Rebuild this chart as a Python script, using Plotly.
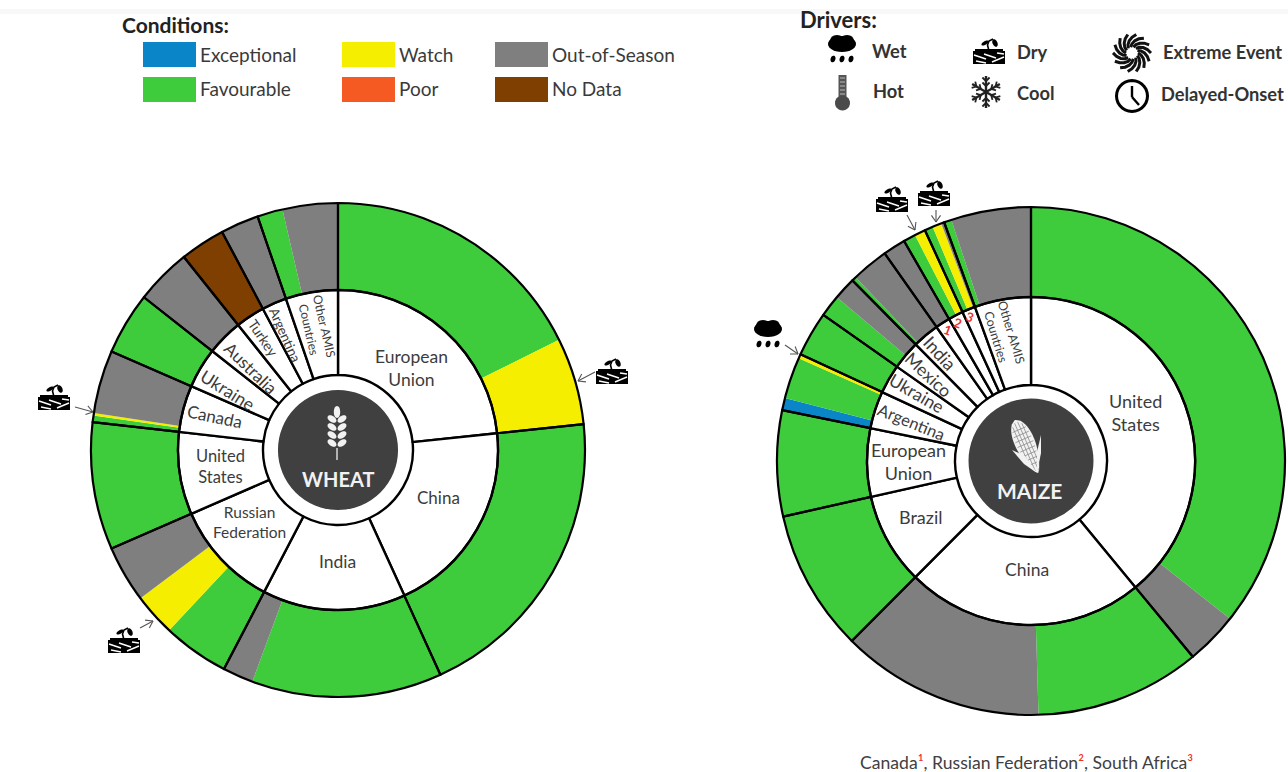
import math
import plotly.graph_objects as go

W, H = 1288, 772

# ---------- data (sector widths, degrees of the full circle) ----------
wheat_countries = ["European Union", "China", "India", "Russian Federation", "United States",
                   "Canada", "Ukraine", "Australia", "Turkey", "Argentina", "Other AMIS Countries"]
wheat_shares = [84, 71.5, 52, 39, 30, 17, 14.7, 13.2, 10.6, 9, 19]
wheat_seg_cond = ["Favourable", "Watch", "Favourable", "Favourable", "Out-of-Season", "Favourable", "Watch",
                  "Out-of-Season", "Favourable", "Favourable", "Watch", "Out-of-Season", "Favourable",
                  "Out-of-Season", "No Data", "Out-of-Season", "Favourable", "Out-of-Season"]
wheat_seg_vals = [63.5, 20.5, 71.5, 44.8, 7.2, 15.6, 10, 13.4, 30, 1.5, 0.6, 14.9, 14.7, 13.2, 10.6, 9, 6, 13]

maize_countries = ["United States", "China", "Brazil", "European Union", "Argentina", "Ukraine", "Mexico",
                   "India", "Canada", "Russian Federation", "South Africa", "Other AMIS Countries"]
maize_shares = [140.5, 84.5, 32.5, 24.2, 13.3, 10.3, 10.2, 9.5, 5.2, 5.3, 4.7, 20]
maize_seg_cond = ["Favourable", "Out-of-Season", "Favourable", "Out-of-Season", "Favourable", "Favourable",
                  "Exceptional", "Favourable", "Watch", "Favourable", "Favourable", "Out-of-Season",
                  "Favourable", "Out-of-Season", "Out-of-Season", "Favourable", "Watch",
                  "Favourable", "Watch", "Out-of-Season", "Favourable", "Out-of-Season"]
maize_seg_vals = [128.5, 12, 37.9, 46.6, 32.5, 24.2, 2.8, 9.5, 1, 10.3, 5, 5.2, 1, 8.5, 5.2, 2.8, 2.5,
                  1.9, 2.1, 0.7, 1.7, 18.3]

legend_conditions = ["Exceptional", "Favourable", "Watch", "Poor", "Out-of-Season", "No Data"]
legend_drivers = ["Wet", "Hot", "Dry", "Cool", "Extreme Event", "Delayed-Onset"]

# ---------- styles ----------
COLORS = {"Exceptional": "#0A86C8", "Favourable": "#3FCC3C", "Watch": "#F5EE00", "Poor": "#F55A22",
          "Out-of-Season": "#7F7F7F", "No Data": "#7F3F00"}
DARK = "#404040"
TXT = "#3c3c3c"
FONT = "Lato"


def px(x):
    return x / W


def py(y):
    return 1 - y / H


def dom(cx, cy, r):
    return dict(x=[px(cx - r), px(cx + r)], y=[py(cy + r), py(cy - r)])


fig = go.Figure()
shapes, notes = [], []


def ring(crop, cx, cy, R, r_mid, r_in, r_disc, countries, shares, seg_c, seg_v):
    common = dict(sort=False, direction="clockwise", rotation=0, textinfo="none",
                  hoverinfo="skip", showlegend=False)
    fig.add_trace(go.Pie(labels=[f"{i} {c}" for i, c in enumerate(seg_c)], values=seg_v,
                         domain=dom(cx, cy, R), hole=r_mid / R,
                         marker=dict(colors=[COLORS[c] for c in seg_c], line=dict(width=0)), **common))
    fig.add_trace(go.Pie(labels=countries, values=shares, domain=dom(cx, cy, r_mid), hole=r_in / r_mid,
                         marker=dict(colors=["white"] * len(shares), line=dict(color="black", width=2.4)),
                         **common))
    fig.add_trace(go.Pie(labels=countries, values=shares, domain=dom(cx, cy, R), hole=r_mid / R,
                         marker=dict(colors=["rgba(0,0,0,0)"] * len(shares),
                                     line=dict(color="black", width=2.2)), **common))
    fig.add_trace(go.Pie(labels=[crop], values=[1], domain=dom(cx, cy, r_disc),
                         marker=dict(colors=[DARK], line=dict(width=0)), **common))


ring("WHEAT", 338, 450, 247, 160, 75, 60, wheat_countries, wheat_shares, wheat_seg_cond, wheat_seg_vals)
ring("MAIZE", 1031, 461, 254, 164, 76, 62.5, maize_countries, maize_shares, maize_seg_cond, maize_seg_vals)


def text(x, y, s, size=15, color=TXT, angle=0, anchor="center", bold=False):
    notes.append(dict(x=px(x), y=py(y), xref="paper", yref="paper", text=f"<b>{s}</b>" if bold else s,
                      showarrow=False, xanchor=anchor, yanchor="middle", textangle=angle,
                      font=dict(family=FONT, size=size, color=color), align="center",
                      bgcolor="rgba(0,0,0,0)", borderpad=0))


def path(points, fill="black", line=None, width=1, close=True):
    d = "M" + " L".join(f"{px(a):.5f},{py(b):.5f}" for a, b in points) + (" Z" if close else "")
    shapes.append(dict(type="path", path=d, xref="paper", yref="paper", layer="above",
                       fillcolor=fill if close else "rgba(0,0,0,0)",
                       line=dict(color=line or "rgba(0,0,0,0)", width=width if line else 0)))


def ellipse(cx, cy, a, b, rot=0, fill="black", line=None, width=1):
    t = math.radians(rot)
    pts = []
    for i in range(28):
        u = 2 * math.pi * i / 28
        x, y = a * math.cos(u), b * math.sin(u)
        pts.append((cx + x * math.cos(t) - y * math.sin(t), cy + x * math.sin(t) + y * math.cos(t)))
    path(pts, fill, line, width)


def seg(x0, y0, x1, y1, color="black", width=1):
    path([(x0, y0), (x1, y1)], line=color, width=width, close=False)


def rect(x0, y0, x1, y1, fill):
    shapes.append(dict(type="rect", x0=px(x0), x1=px(x1), y0=py(y1), y1=py(y0), xref="paper", yref="paper",
                       layer="above", fillcolor=fill, line=dict(width=0)))


def arrow(x0, y0, x1, y1):
    ang = math.atan2(y1 - y0, x1 - x0)
    for d in (0.6, -0.6):
        seg(x1, y1, x1 - 8 * math.cos(ang + d), y1 - 8 * math.sin(ang + d), "#555555", 1.1)
    seg(x0, y0, x1, y1, "#555555", 1.1)


def dry(cx, cy):
    rect(cx - 16, cy - 1, cx + 16, cy + 12, "black")
    for a, b, c, d in [(-15, 3, -3, 7), (-5, 2, 7, 6), (3, 10, 15, 5), (-13, 9, -3, 11), (8, 1, 15, 2)]:
        seg(cx + a, cy + b, cx + c, cy + d, "white", 1.4)
    path([(cx, cy - 1), (cx - 1.5, cy - 7), (cx, cy - 11), (cx + 4, cy - 13)],
         line="black", width=1.6, close=False)
    ellipse(cx + 6, cy - 9, 4, 2.4, 65)
    ellipse(cx - 4, cy - 9, 4, 1.8, -30)
    rect(cx - 14, cy - 3, cx + 14, cy - 1, "black")


def cloud(cx, cy):
    ellipse(cx, cy - 7, 14, 8)
    ellipse(cx - 5, cy - 10, 7, 6)
    ellipse(cx + 5, cy - 10, 7, 6)
    for d in (-9, 0, 9):
        ellipse(cx + d, cy + 8, 2.4, 3.4, 20)


# ---------- legends ----------
text(121, 24, "Conditions:", 21, "#222222", anchor="left", bold=True)
for name, x, y in zip(legend_conditions, [143, 143, 342, 342, 495, 495], [42, 77, 42, 77, 42, 77]):
    rect(x, y, x + 53, y + 25, COLORS[name])
    text(x + 56, y + 12, name, 19, "#3a3a3a", anchor="left")

text(799, 20, "Drivers:", 22, "#222222", anchor="left", bold=True)
for name, x, y in zip(legend_drivers, [871, 872, 1016, 1016, 1162, 1160], [51, 91, 52, 93, 52, 94]):
    text(x, y, name, 18.3, "#333333", anchor="left", bold=True)

cloud(842, 51)
rect(838.5, 75, 846.5, 102, "#555555")
for yy in range(78, 100, 4):
    seg(840, yy, 845, yy, "#bbbbbb", 1)
ellipse(842.5, 103, 7.5, 7.5, fill="#4a4a4a")
dry(989, 52)
for k in range(6):
    t = math.radians(k * 60 + 90)
    c, s = math.cos(t), math.sin(t)
    seg(986, 92, 986 + 16 * c, 92 + 16 * s, "#222222", 2.4)
    for dist in (6, 11):
        for d in (0.8, -0.8):
            seg(986 + dist * c, 92 + dist * s, 986 + dist * c + 5 * math.cos(t + d),
                92 + dist * s + 5 * math.sin(t + d), "#222222", 1.8)
for k in range(14):
    t0 = 2 * math.pi * k / 14
    pts = [(1132 + (6 + 13 * u) * math.cos(t0 + 0.9 * u), 53 + (6 + 13 * u) * math.sin(t0 + 0.9 * u))
           for u in (0, 0.25, 0.5, 0.75, 1)]
    path(pts, line="#111111", width=3, close=False)
ellipse(1132, 96, 15.5, 15.5, fill="rgba(0,0,0,0)", line="black", width=3)
seg(1132, 86, 1132, 97, "black", 2.4)
seg(1132, 97, 1139, 105, "black", 2.4)


# ---------- ring labels ----------
def br(name):
    parts = name.split(" ")
    if len(parts) == 3:
        return " ".join(parts[:2]) + "<br>" + parts[2]
    return "<br>".join(parts)


for name, x, y, size, ang in [("European Union", 411, 368, 17.5, 0), ("China", 438, 498, 17, 0),
                              ("India", 337, 561, 17.5, 0), ("Russian Federation", 249, 522, 15.5, 0),
                              ("United States", 220, 466, 16.5, 0), ("Canada", 215, 416, 17, 12),
                              ("Ukraine", 228, 390, 17.5, 32), ("Australia", 250, 368, 17, 44),
                              ("Turkey", 264, 338, 14, 56), ("Argentina", 285, 335, 13.5, 66),
                              ("Other AMIS Countries", 316, 328, 12.2, 77)]:
    text(x, y, br(name), size, angle=ang)

for name, x, y, size, ang in [("United States", 1135, 412, 18, 0), ("China", 1027, 569, 17.5, 0),
                              ("Brazil", 921, 517, 18, 0), ("European Union", 908, 461, 18, 0),
                              ("Argentina", 911, 422, 16.5, 22), ("Ukraine", 917, 393, 17.5, 30),
                              ("Mexico", 928, 375, 17.5, 43), ("India", 940, 353, 18, 48),
                              ("Other AMIS Countries", 1004, 334, 12.4, 73)]:
    text(x, y, br(name), size, angle=ang)

for s, x, y in [("1", 948, 330), ("2", 958, 323), ("3", 970, 317)]:
    text(x, y, s, 13, "#EE3030", angle=20, bold=True)

# ---------- centre emblems ----------
text(338, 479, "WHEAT", 20, "#f2f2f2", bold=True)
text(1029, 490, "MAIZE", 21, "#f2f2f2", bold=True)

ellipse(337, 412, 3.2, 6, fill="#f2f2f2")
for yy in (419, 427, 435, 443):
    ellipse(332, yy, 5, 3, 35, fill="#f2f2f2")
    ellipse(342, yy, 5, 3, -35, fill="#f2f2f2")
seg(337, 448, 337, 460, "#d8d8d8", 1.5)

# maize cob drawn along its own axis
ax0, ay0, ax1, ay1 = 1015, 420, 1038, 473
ulen = math.hypot(ax1 - ax0, ay1 - ay0)
ux, uy = (ax1 - ax0) / ulen, (ay1 - ay0) / ulen


def cob(u, v):
    return (ax0 + ux * u - uy * v, ay0 + uy * u + ux * v)


def half(u):
    f = u / ulen
    return 10 * math.sin(math.pi * f ** 0.75) ** 0.7 + 0.2


us = [ulen * i / 20 for i in range(21)]
path([cob(u, half(u)) for u in us] + [cob(u, -half(u)) for u in reversed(us)], fill="#f2f2f2")
for v in (-5, -1.7, 1.7, 5):
    inside = [u for u in us if half(u) * 0.9 > abs(v)]
    seg(*cob(inside[0], v), *cob(inside[-1], v), "#8a8a8a", 0.8)
for i in range(2, 10):
    u = ulen * i / 11
    seg(*cob(u, -half(u) * 0.85), *cob(u, half(u) * 0.85), "#8a8a8a", 0.8)
path([(1012, 450), (1025, 456), (1037, 473), (1024, 464)], fill="#f2f2f2")
path([(1041, 435), (1041, 453), (1037, 473), (1037, 452)], fill="#f2f2f2")

# ---------- driver markers ----------
dry(612, 372)
arrow(595, 372, 578, 381)
dry(54, 398)
arrow(75, 407, 93, 412)
dry(124, 641)
arrow(140, 628, 153, 621)
cloud(768, 336)
arrow(785, 345, 798, 354)
dry(892, 200)
arrow(907, 215, 915, 230)
dry(934, 194)
arrow(936, 210, 936, 222)

# ---------- footer ----------
red = '<span style="color:#EE3030">%s</span>'
text(1026, 762, "Canada" + red % "¹" + ", Russian Federation" + red % "²" + ", South Africa" + red % "³",
     17.6, "#404040")

rect(0, 9, W, 14, "#f8f8f8")

fig.update_layout(width=W, height=H, margin=dict(l=0, r=0, t=0, b=0), paper_bgcolor="white",
                  plot_bgcolor="white", shapes=shapes, annotations=notes, showlegend=False,
                  font=dict(family=FONT))
fig.write_html("out.html", config=dict(displayModeBar=False),
               post_script="document.body.style.margin='0';document.body.style.overflow='hidden';")
